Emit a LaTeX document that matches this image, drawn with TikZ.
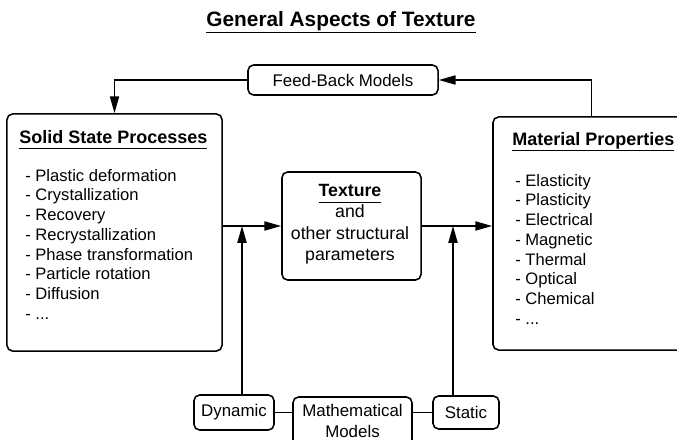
\documentclass[tikz,border=0pt]{standalone}
\usepackage{fontspec}
\setmainfont{Liberation Sans}
\usetikzlibrary{arrows.meta}
\newcommand{\ulbf}[1]{\setbox0\hbox{\bfseries #1}\rlap{\rule[-4.6pt]{\wd0}{1pt}}\box0}
\tikzset{
	box/.style={draw, line width=1.1pt, rounded corners=4pt, inner sep=0pt},
	arr/.style={line width=1.1pt, -{Triangle[length=12pt,width=6.5pt]}},
	conn/.style={line width=1.1pt},
}

\begin{document}
\begin{tikzpicture}[x=0.025cm, y=-0.025cm, font=\fontsize{12}{14.5}\selectfont]
		\useasboundingbox (0,0) rectangle (677,440);
		\node (title) [anchor=base] at (341,27) {\fontsize{14.8}{17}\selectfont\ulbf{General Aspects of Texture}};

		\node (feedback)[box, minimum width=4.75cm, minimum height=0.75cm] at (343,80) {Feed-Back Models};
		\node (solid)[box, minimum width=5.375cm, minimum height=5.925cm] at (114.5,232.5) {};
		\node (matprop)[box, minimum width=4.925cm, minimum height=5.825cm] at (591.5,233.5) {};
		\node (texture)[box, minimum width=3.475cm, minimum height=2.7cm] at (351.5,226) {};
		\node (dynamic)[box, minimum width=2cm, minimum height=0.875cm] at (234,412.5) {Dynamic};
		\node (mathmod)[box, minimum width=2.975cm, minimum height=1.2cm, align=center] at (352.5,421) {Mathematical\\Models};
		\node (static)[box, minimum width=1.65cm, minimum height=0.825cm] at (466,412.5) {Static};

		% texts in the big boxes
		\node (solidhead)[anchor=base west, inner sep=0pt] at (19,143) {\fontsize{12.8}{15}\selectfont\ulbf{Solid State Processes}};
		\node (solidlist)[anchor=north west, align=left, inner sep=0pt, font=\fontsize{11.8}{14}\selectfont] at (25,169) {- Plastic deformation\\- Crystallization\\- Recovery\\- Recrystallization\\- Phase transformation\\- Particle rotation\\- Diffusion\\- ...};
		\node (mathead)[anchor=base west, inner sep=0pt] at (512,145) {\fontsize{12.8}{15}\selectfont\ulbf{Material Properties}};
		\node (matlist)[anchor=north west, align=left, inner sep=0pt, font=\fontsize{11.8}{14}\selectfont] at (515,174) {- Elasticity\\- Plasticity\\- Electrical\\- Magnetic\\- Thermal\\- Optical\\- Chemical\\- ...};
		\node (textext)[anchor=north, align=center, inner sep=0pt, font=\fontsize{12.6}{15.2}\selectfont] at (350,184) {\ulbf{Texture}\\and\\other structural\\parameters};

		\draw [arr](matprop.north) |- (feedback.east);
		\draw [arr](feedback.west) -| (solid.north);
		\draw [arr](texture.west -| solid.east) -- (texture.west);
		\draw [arr](texture.east) -- (texture.east -| matprop.west);

		\coordinate (dynup) at (242,226);
		\coordinate (statup) at (453,226);
		\draw [arr](dynamic.north -| dynup) -- (dynup);
		\draw [arr](static.north -| statup) -- (statup);
		\draw [conn](dynamic.east) -- (dynamic.east -| mathmod.west);
		\draw [conn](static.west -| mathmod.east) -- (static.west);
	\end{tikzpicture}
\end{document}
